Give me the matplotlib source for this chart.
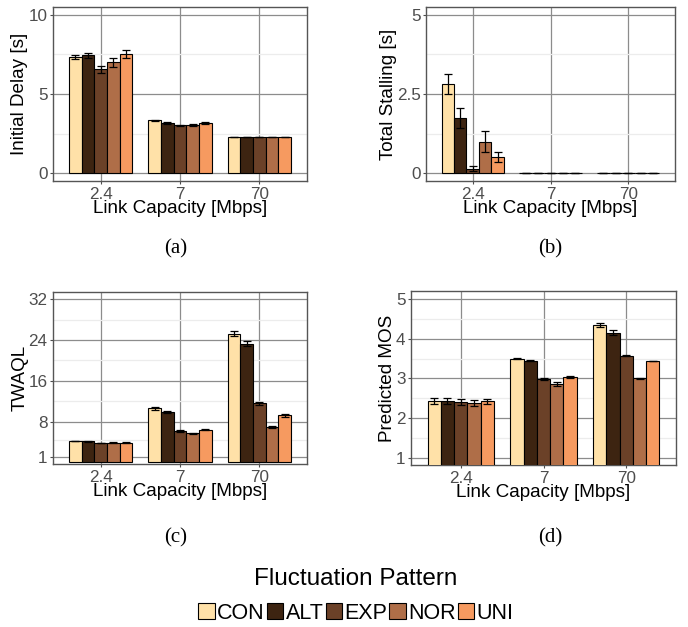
import numpy as np
import matplotlib
matplotlib.use('Agg')
import matplotlib.pyplot as plt
from matplotlib.patches import Patch

plt.rcParams['font.family'] = ['Liberation Sans', 'DejaVu Sans']

capacities = ['2.4', '7', '70']
patterns = ['CON', 'ALT', 'EXP', 'NOR', 'UNI']
colors = ['#FFE1A8', '#3D2411', '#6B4128', '#AF6E48', '#F69A60']

# rows = patterns, columns = capacities
delay_mean = [[7.33, 3.33, 2.27],
              [7.45, 3.16, 2.27],
              [6.55, 3.02, 2.27],
              [7.00, 3.05, 2.27],
              [7.55, 3.17, 2.27]]
delay_err = [[0.12, 0.05, 0.02],
             [0.15, 0.05, 0.02],
             [0.20, 0.05, 0.02],
             [0.30, 0.05, 0.02],
             [0.25, 0.07, 0.02]]

stall_mean = [[2.82, 0.0, 0.0],
              [1.74, 0.0, 0.0],
              [0.14, 0.0, 0.0],
              [0.99, 0.0, 0.0],
              [0.51, 0.0, 0.0]]
stall_err = [[0.31, 0.0, 0.0],
             [0.32, 0.0, 0.0],
             [0.08, 0.0, 0.0],
             [0.33, 0.0, 0.0],
             [0.17, 0.0, 0.0]]

twaql_mean = [[4.2, 10.6, 25.2],
              [4.15, 9.9, 23.3],
              [3.8, 6.25, 11.6],
              [3.9, 5.7, 6.9],
              [3.9, 6.45, 9.25]]
twaql_err = [[0.08, 0.25, 0.5],
             [0.08, 0.25, 0.45],
             [0.08, 0.2, 0.3],
             [0.08, 0.15, 0.2],
             [0.08, 0.15, 0.25]]

mos_mean = [[2.43, 3.50, 4.34],
            [2.43, 3.45, 4.15],
            [2.40, 2.98, 3.57],
            [2.38, 2.86, 3.00],
            [2.42, 3.04, 3.44]]
mos_err = [[0.08, 0.02, 0.05],
           [0.08, 0.02, 0.06],
           [0.07, 0.02, 0.01],
           [0.07, 0.04, 0.02],
           [0.06, 0.02, 0.01]]

fig = plt.figure(figsize=(6.88, 6.27), dpi=100)

W, H = 688.0, 627.0


def make_axes(left, top, right, bottom):
    return fig.add_axes([left / W, 1 - bottom / H, (right - left) / W, (bottom - top) / H])


def draw_panel(ax, means, errs, ylabel, ylim, yticks, yminor):
    x = np.arange(len(capacities))
    width = 0.16
    for j, p in enumerate(patterns):
        pos = x + (j - 2) * width
        ax.bar(pos, means[j], width, color=colors[j], edgecolor='black',
               linewidth=0.8, zorder=3)
        ax.errorbar(pos, means[j], yerr=errs[j], fmt='none', ecolor='black',
                    elinewidth=0.9, capsize=2.6, capthick=0.9, zorder=4)
    ax.set_xlim(-0.6, 2.6)
    ax.set_ylim(*ylim)
    ax.set_xticks(x)
    ax.set_xticklabels(capacities)
    ax.set_yticks(yticks)
    ax.set_yticks(yminor, minor=True)
    ax.set_axisbelow(True)
    ax.grid(True, which='major', color='#8c8c8c', linewidth=0.9)
    ax.grid(True, which='minor', axis='y', color='#ececec', linewidth=0.9)
    ax.tick_params(which='major', labelsize=12.3, labelcolor='#4d4d4d', color='#4d4d4d',
                   length=2.5, width=0.8, pad=1.5)
    ax.tick_params(which='minor', length=0)
    for s in ax.spines.values():
        s.set_color('#555555')
        s.set_linewidth(1.0)
    ax.set_xlabel('Link Capacity [Mbps]', fontsize=13.6, labelpad=-1)
    ax.set_ylabel(ylabel, fontsize=13.6, labelpad=0)


ax_a = make_axes(53, 7, 307, 181)
draw_panel(ax_a, delay_mean, delay_err, 'Initial Delay [s]', (-0.5, 10.5),
           [0, 5, 10], [2.5, 7.5])
ax_a.set_yticklabels(['0', '5', '10'])

ax_b = make_axes(426, 7, 675, 181)
draw_panel(ax_b, stall_mean, stall_err, 'Total Stalling [s]', (-0.25, 5.25),
           [0, 2.5, 5], [1.25, 3.75])
ax_b.set_yticklabels(['0', '2.5', '5'])

ax_c = make_axes(53, 292, 307, 464)
draw_panel(ax_c, twaql_mean, twaql_err, 'TWAQL', (-0.3, 33.4),
           [1, 8, 16, 24, 32], [4.5, 12, 20, 28])

ax_d = make_axes(411, 291, 676, 465)
draw_panel(ax_d, mos_mean, mos_err, 'Predicted MOS', (0.82, 5.2),
           [1, 2, 3, 4, 5], [1.5, 2.5, 3.5, 4.5])

for lab, xc, yc in [('(a)', 176, 249), ('(b)', 550, 249), ('(c)', 176, 538), ('(d)', 550, 538)]:
    fig.text(xc / W, 1 - yc / H, lab, family='Liberation Serif', fontsize=15,
             ha='center', va='center')

handles = [Patch(facecolor=c, edgecolor='black', linewidth=0.8) for c in colors]
leg = fig.legend(handles, patterns, loc='center', ncol=5,
                 bbox_to_anchor=(356 / W, 1 - 596 / H), frameon=False,
                 fontsize=15.5, title='Fluctuation Pattern', title_fontsize=17.5,
                 handlelength=0.75, handleheight=0.75, handletextpad=0.12,
                 columnspacing=0.1, borderpad=0.0, labelspacing=0.2)
leg._legend_box.sep = 9

fig.savefig('out.png', dpi=100)
